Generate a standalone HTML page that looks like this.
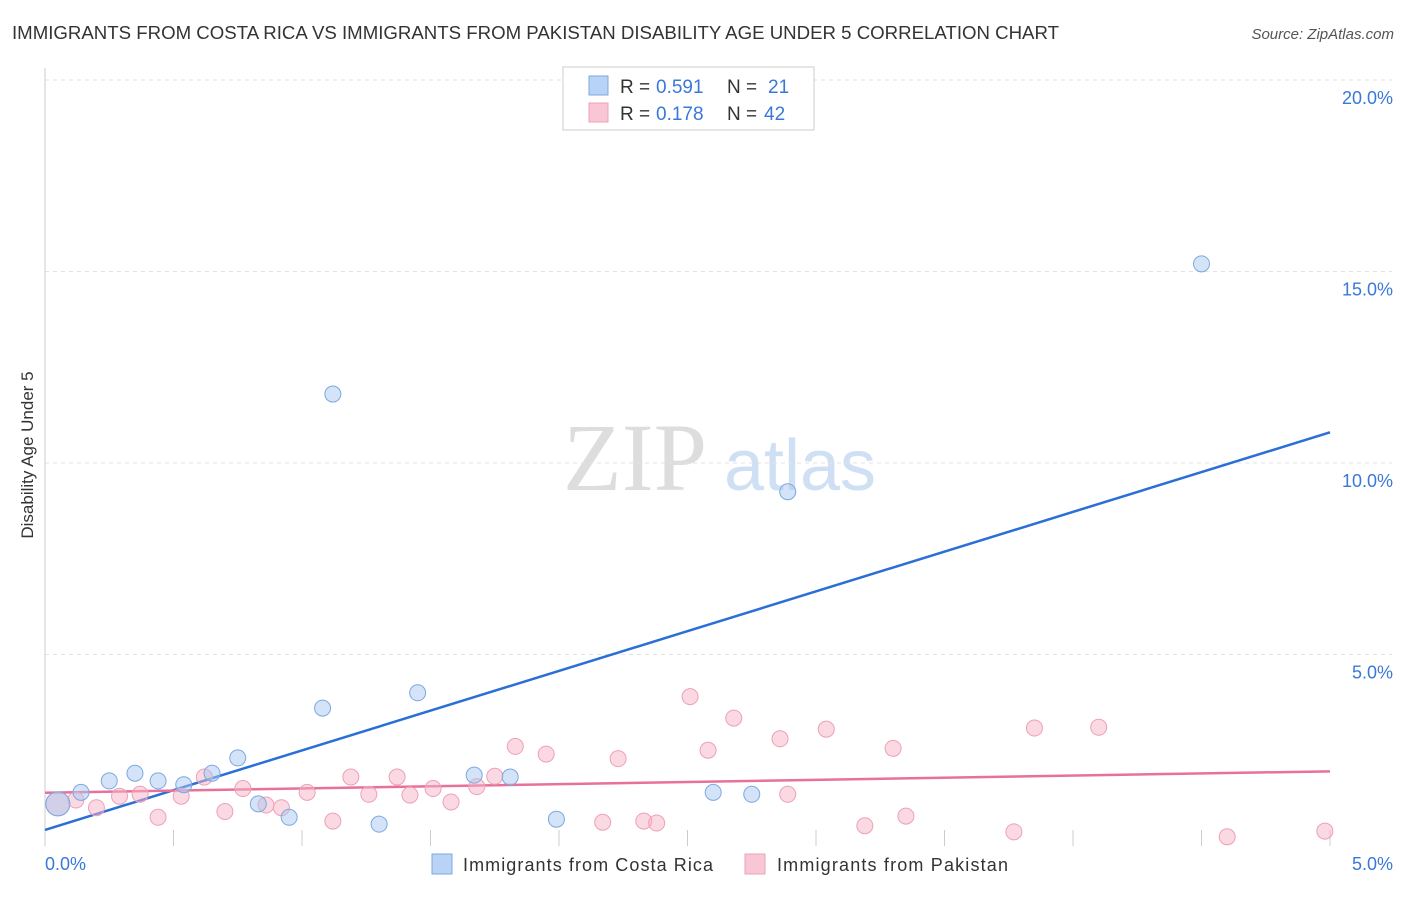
<!DOCTYPE html>
<html><head><meta charset="utf-8"><style>
body{margin:0;background:#fff;font-family:"Liberation Sans",sans-serif;}
</style></head><body>
<svg id="chart" width="1406" height="892" xmlns="http://www.w3.org/2000/svg" font-family="Liberation Sans, sans-serif">
<text x="12" y="39" font-size="18" fill="#333" textLength="1047" lengthAdjust="spacingAndGlyphs">IMMIGRANTS FROM COSTA RICA VS IMMIGRANTS FROM PAKISTAN DISABILITY AGE UNDER 5 CORRELATION CHART</text>
<text x="1394" y="39" font-size="15" fill="#555" text-anchor="end" font-style="italic">Source: ZipAtlas.com</text>
<text transform="translate(33,455) rotate(-90)" font-size="17" fill="#333" text-anchor="middle">Disability Age Under 5</text>
<g><text x="635" y="490" font-size="96" fill="#ddd" style="font-family:'Liberation Serif',serif" text-anchor="middle">ZIP</text><text x="800" y="490" font-size="72" fill="#cfe0f5" text-anchor="middle">atlas</text></g>
<g id="grid"></g><g id="axes"></g><g id="lines"></g><g id="pts"></g>
<g>
<rect x="563" y="67" width="251" height="63" fill="#fff" stroke="#ccc"/>
<rect x="589" y="76" width="19" height="19" fill="#b8d3f5" stroke="#7aa9e0"/>
<rect x="589" y="103" width="19" height="19" fill="#f9c6d5" stroke="#eea0b8"/>
<text x="620" y="93" font-size="19" fill="#333">R =</text><text x="656" y="93" font-size="19" fill="#3a78d8">0.591</text>
<text x="727" y="93" font-size="19" fill="#333">N =</text><text x="768" y="93" font-size="19" fill="#3a78d8">21</text>
<text x="620" y="120" font-size="19" fill="#333">R =</text><text x="656" y="120" font-size="19" fill="#3a78d8">0.178</text>
<text x="727" y="120" font-size="19" fill="#333">N =</text><text x="764" y="120" font-size="19" fill="#3a78d8">42</text>
</g>
<g>
<rect x="432" y="854" width="20" height="20" fill="#b8d3f5" stroke="#7aa9e0"/>
<text x="463" y="871" font-size="18" fill="#333" textLength="250">Immigrants from Costa Rica</text>
<rect x="745" y="854" width="20" height="20" fill="#f9c6d5" stroke="#eea0b8"/>
<text x="777" y="871" font-size="18" fill="#333" textLength="231">Immigrants from Pakistan</text>
</g>
</svg>
<script>
const blueX=[0.05,0.14,0.25,0.35,0.44,0.54,0.65,0.75,0.83,0.95,1.08,1.12,1.30,1.45,1.67,1.81,1.99,2.60,2.75,2.89,4.50];
const blueY=[1.1,1.4,1.7,1.9,1.7,1.6,1.9,2.3,1.1,0.75,3.60,11.8,0.57,4.0,1.85,1.8,0.7,1.4,1.35,9.25,15.2];
const pinkX=[0.05,0.12,0.20,0.29,0.37,0.44,0.53,0.62,0.70,0.77,0.86,0.92,1.02,1.12,1.19,1.26,1.37,1.42,1.51,1.58,1.68,1.75,1.83,1.95,2.17,2.23,2.33,2.38,2.51,2.58,2.68,2.86,2.89,3.04,3.19,3.30,3.35,3.77,3.85,4.10,4.60,4.98];
const pinkY=[1.1,1.2,1.0,1.3,1.35,0.75,1.3,1.8,0.9,1.5,1.07,1.0,1.4,0.65,1.8,1.35,1.8,1.33,1.5,1.15,1.55,1.82,2.6,2.4,0.62,2.28,0.65,0.6,3.90,2.5,3.34,2.8,1.35,3.05,0.53,2.55,0.78,0.37,3.08,3.1,0.24,0.39];
const blueFit=[0.42,10.8], pinkFit=[1.39,1.95];
const yTicks=[5,10,15,20], xTickLabels=["0.0%","5.0%"];
const X=v=>45+v*257, Y=v=>846-v*38.3;
const NS="http://www.w3.org/2000/svg";
function mk(p,t,a){const e=document.createElementNS(NS,t);for(const k in a)e.setAttribute(k,a[k]);document.getElementById(p).appendChild(e);return e;}
yTicks.forEach(t=>{
 const l=mk('grid','line',{x1:45,x2:1392,y1:Y(t),y2:Y(t),stroke:'#e3e3e3','stroke-dasharray':'4,4'});
 
 
 const tx=mk('grid','text',{x:1393,y:Y(t)+24,'font-size':18,fill:'#3a78d8','text-anchor':'end'});
 tx.textContent=t.toFixed(1)+'%';
 
 
});
let a=mk('axes','line',{x1:45,x2:45,y1:68,y2:846,stroke:'#ccc'});


for(let i=1;i<=10;i++){
 const t=mk('axes','line',{x1:X(i*0.5),x2:X(i*0.5),y1:830,y2:846,stroke:'#ccc'});
 
 
}
xTickLabels.forEach((s,i)=>{
 const t=mk('axes','text',{x:i?1393:45,y:870,'font-size':18,fill:'#3a78d8','text-anchor':i?'end':'start'});
 t.textContent=s;
 
 
});
function pts(xs,ys,fill,stroke,name){xs.forEach((x,i)=>{
 const c=mk('pts','circle',{cx:X(x),cy:Y(ys[i]),r:i===0?12:8,fill:fill,stroke:stroke,'stroke-width':1});
 
 
});}
pts(pinkX,pinkY,'rgba(246,180,200,0.5)','#eea0b8','pakistan-point');
pts(blueX,blueY,'rgba(170,200,240,0.5)','#7aa9e0','costa-rica-point');
let bl=mk('lines','line',{x1:X(0),y1:Y(blueFit[0]),x2:X(5),y2:Y(blueFit[1]),stroke:'#2a6fd6','stroke-width':2.5});


let pl=mk('lines','line',{x1:X(0),y1:Y(pinkFit[0]),x2:X(5),y2:Y(pinkFit[1]),stroke:'#e8709a','stroke-width':2.5});


</script>
</body></html>
